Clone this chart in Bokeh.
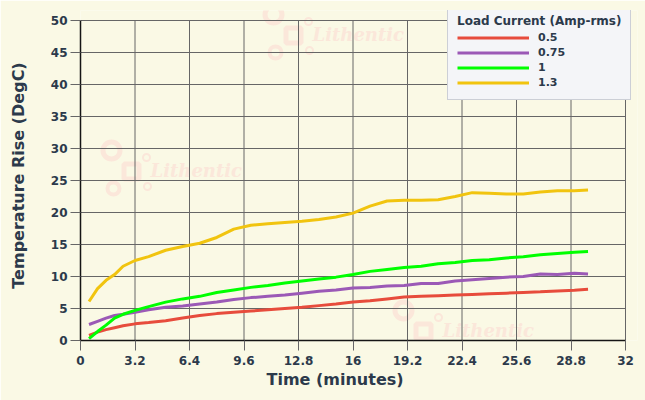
from bokeh.plotting import figure
from bokeh.models import Legend, LegendItem, FixedTicker, CustomJSTickFormatter, Title
from bokeh.core.properties import value
from bokeh.embed import file_html
from bokeh.resources import INLINE

# ---- data ----
time_min = [0.5, 1, 1.5, 2, 2.5, 3.2, 4, 5, 6, 7, 8, 9, 10, 11, 12, 13, 14, 15, 16,
            17, 18, 19, 20, 21, 22, 23, 24, 25, 26, 27, 28, 29, 29.8]
rise_05 = [0.8, 1.3, 1.7, 2.0, 2.3, 2.6, 2.8, 3.1, 3.5, 3.9, 4.2, 4.4, 4.6, 4.8, 5.0, 5.2, 5.45,
           5.7, 6.0, 6.2, 6.5, 6.8, 6.9, 7.0, 7.1, 7.2, 7.3, 7.4, 7.5, 7.6, 7.75, 7.85, 8.0]
rise_075 = [2.5, 3.0, 3.5, 3.9, 4.1, 4.4, 4.8, 5.2, 5.4, 5.7, 6.0, 6.4, 6.7, 6.9, 7.1, 7.4, 7.7,
            7.9, 8.2, 8.3, 8.5, 8.6, 8.9, 8.9, 9.3, 9.5, 9.7, 9.9, 10.0, 10.4, 10.3, 10.5, 10.4]
rise_1 = [0.3, 1.4, 2.4, 3.5, 4.1, 4.7, 5.3, 6.0, 6.5, 6.9, 7.5, 7.9, 8.3, 8.6, 9.0, 9.3, 9.6,
          9.9, 10.3, 10.8, 11.1, 11.4, 11.6, 12.0, 12.2, 12.5, 12.6, 12.9, 13.1, 13.4, 13.6, 13.8, 13.9]
rise_13 = [6.1, 8.1, 9.4, 10.3, 11.6, 12.5, 13.1, 14.1, 14.7, 15.2, 16.1, 17.4, 18.0, 18.25, 18.45,
           18.65, 18.9, 19.3, 19.9, 21.0, 21.8, 21.9, 21.9, 22.0, 22.5, 23.1, 23.0, 22.9, 22.9,
           23.2, 23.4, 23.4, 23.5]
series_labels = ["0.5", "0.75", "1", "1.3"]
series_colors = ["#e74c3c", "#9b59b6", "#00ff00", "#f1c40f"]
x_ticks = [0, 3.2, 6.4, 9.6, 12.8, 16, 19.2, 22.4, 25.6, 28.8, 32]
y_ticks = [0, 5, 10, 15, 20, 25, 30, 35, 40, 45, 50]
x_title = "Time (minutes)"
y_title = "Temperature Rise (DegC)"
legend_title = "Load Current (Amp-rms)"
X_MAX = 32
Y_MAX = 50

BG = "#faf9e5"
TXT = "#2c3a4b"
GRID = "#666666"

# frame is a little larger than the axes so the legend can overhang the plot corner
PXX = 545 / 32.0
PXY = 6.4
x_end = X_MAX + 12 / PXX
y_end = Y_MAX + 10 / PXY

p = figure(width=645, height=400, x_range=(0, x_end), y_range=(0, y_end),
           output_backend="svg", toolbar_location=None,
           min_border_left=80, min_border_right=8, min_border_top=10, min_border_bottom=60)
p.background_fill_color = BG
p.border_fill_color = BG
p.outline_line_color = None
p.grid.grid_line_color = None

def dx(px):
    return (px - 80) / PXX
def dy(py):
    return (340 - py) / PXY

# ---- watermark (decoration, under grid) ----
WM = "#fbe7da"
anchors = [(312, 34), (150, 170), (442, 330)]
for (tx, ty) in anchors:
    p.text(x=[dx(tx)], y=[dy(ty)], text=["Lithentic"], text_font=value("DejaVu Serif"),
           text_font_style="bold italic", text_font_size="18px", text_color=WM,
           text_baseline="middle", text_align="left", level="image")
    p.scatter(x=[dx(tx - 39), dx(tx - 37)], y=[dy(ty - 20), dy(ty + 18)], size=[17, 12],
              marker="circle", fill_color=None, line_color=WM, line_width=[5, 4], level="image")
    p.scatter(x=[dx(tx - 4), dx(tx - 3)], y=[dy(ty - 13), dy(ty + 16)], size=7,
              marker="circle", fill_color=None, line_color=WM, line_width=2, level="image")
    p.scatter(x=[dx(tx - 19)], y=[dy(ty + 1)], size=15, marker="square",
              fill_color=None, line_color=WM, line_width=5, level="image")

# ---- grid lines limited to the 0..32 x 0..50 area ----
p.segment(x0=x_ticks, y0=[0] * len(x_ticks), x1=x_ticks, y1=[Y_MAX] * len(x_ticks),
          line_color=GRID, line_width=1, level="underlay")
p.segment(x0=[0] * len(y_ticks), y0=y_ticks, x1=[X_MAX] * len(y_ticks), y1=y_ticks,
          line_color=GRID, line_width=1, level="underlay")

# ---- series ----
renderers = []
for ys, col in zip([rise_05, rise_075, rise_1, rise_13], series_colors):
    r = p.line(time_min, ys, line_color=col, line_width=3)
    renderers.append(r)

# ---- axes ----
p.xaxis.ticker = FixedTicker(ticks=x_ticks)
p.yaxis.ticker = FixedTicker(ticks=y_ticks)
p.xaxis.bounds = (0, X_MAX)
p.yaxis.bounds = (0, Y_MAX)
p.xaxis.formatter = CustomJSTickFormatter(code="return String(Math.round(tick*10)/10)")
p.yaxis.axis_label = y_title
for ax in (p.xaxis[0], p.yaxis[0]):
    ax.axis_line_color = "#151515"
    ax.axis_line_width = 1.5
    ax.major_tick_line_color = GRID
    ax.major_tick_line_width = 1
    ax.major_tick_out = 10
    ax.major_tick_in = 0
    ax.minor_tick_line_color = None
    ax.major_label_text_font = "DejaVu Sans"
    ax.major_label_text_font_style = "bold"
    ax.major_label_text_font_size = "12px"
    ax.major_label_text_color = TXT
    ax.axis_label_text_font = "DejaVu Sans"
    ax.axis_label_text_font_style = "bold"
    ax.axis_label_text_color = TXT
p.yaxis.axis_label_text_font_size = "16px"
p.xaxis.major_label_standoff = 5
p.yaxis.major_label_standoff = 3
p.yaxis.axis_label_standoff = 20

# x-axis title placed like the original (left of centre)
xt = Title(text=x_title, align="left", offset=186, standoff=0,
           text_font="DejaVu Sans", text_font_style="bold", text_font_size="16px",
           text_color=TXT)
p.add_layout(xt, "below")

# ---- legend ----
legend = Legend(items=[LegendItem(label=lab, renderers=[r]) for lab, r in zip(series_labels, renderers)],
                location=(367, 240), title=legend_title)
legend.title_text_font = "DejaVu Sans"
legend.title_text_font_style = "bold"
legend.title_text_font_size = "12px"
legend.title_text_color = TXT
legend.title_standoff = 2
legend.label_text_font = "DejaVu Sans"
legend.label_text_font_style = "bold"
legend.label_text_font_size = "11px"
legend.label_text_color = TXT
legend.label_height = 15
legend.glyph_height = 15
legend.glyph_width = 72
legend.label_standoff = 9
legend.spacing = 0
legend.padding = 9
legend.margin = 0
legend.background_fill_color = "#f4f5f8"
legend.background_fill_alpha = 1
legend.border_line_color = "#a3aab3"
legend.border_line_width = 1.5
p.add_layout(legend)

open("out.html", "w").write(file_html(p, INLINE))
